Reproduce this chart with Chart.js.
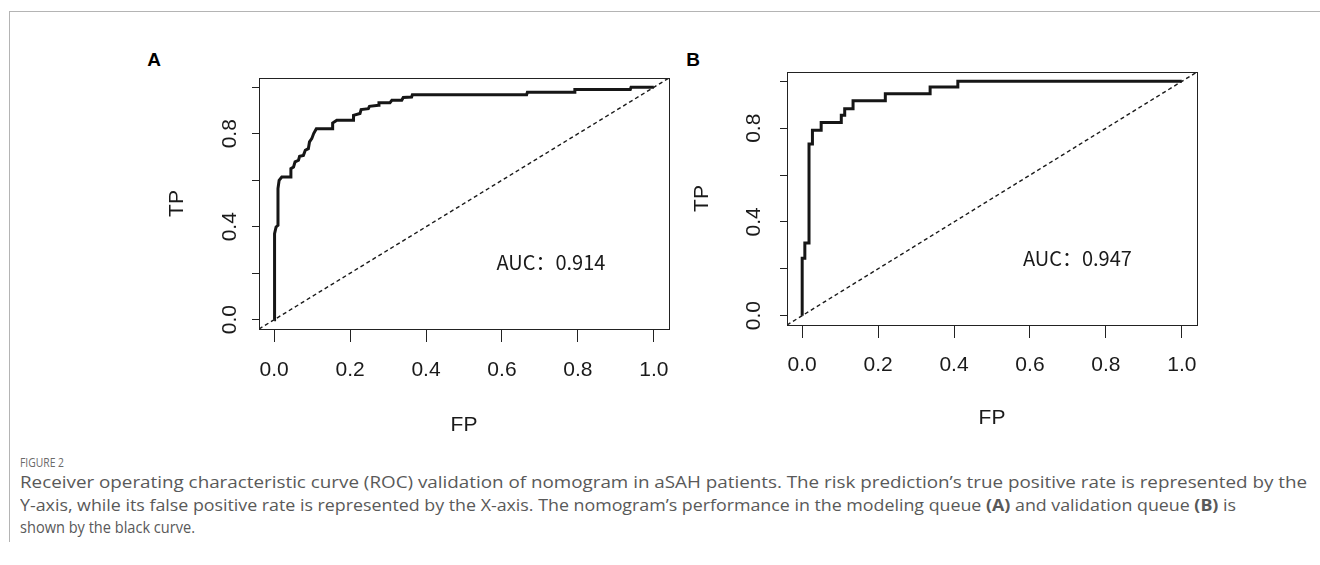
<!DOCTYPE html>
<html><head><meta charset="utf-8">
<script src="https://cdn.jsdelivr.net/npm/chart.js@4.4.1/dist/chart.umd.min.js"></script>
<style>
html,body{margin:0;padding:0;background:#fff;}
body{width:1320px;height:565px;position:relative;overflow:hidden;font-family:"Liberation Sans",Arial,sans-serif;}
.frame{position:absolute;left:9px;top:11px;width:1320px;height:530px;border-top:1px solid #b4b4b4;border-left:1px solid #b4b4b4;}
.panel{position:absolute;}
.letter{position:absolute;font:bold 19px "Liberation Sans",Arial,sans-serif;color:#000;transform:translate(-50%,-50%);}
.cap{position:absolute;white-space:nowrap;color:#595959;font-family:"Open Sans",sans-serif;font-size:16px;line-height:20px;transform-origin:0 50%;}
.cap.fig{font-size:12.5px;color:#6a6a6a;font-weight:400;}
</style></head><body>
<div class="frame"></div>
<div class="letter" style="left:154px;top:60px">A</div>
<div class="letter" style="left:693px;top:60px">B</div>
<div class="panel" style="left:100px;top:40px;width:594px;height:410px"><canvas id="ca"></canvas></div>
<div class="panel" style="left:628px;top:34px;width:594px;height:412px"><canvas id="cb"></canvas></div>
<div class="cap fig" data-x="20" data-y="463" data-w="44">FIGURE 2</div>
<div class="cap" data-x="20" data-y="482" data-w="1287">Receiver operating characteristic curve (ROC) validation of nomogram in aSAH patients. The risk prediction’s true positive rate is represented by the</div>
<div class="cap" data-x="20" data-y="505" data-w="1216">Y-axis, while its false positive rate is represented by the X-axis. The nomogram’s performance in the modeling queue <b>(A)</b> and validation queue <b>(B)</b> is</div>
<div class="cap" data-x="20" data-y="527" data-w="175">shown by the black curve.</div>
<script>
// ---- data ----
const xTicks = [0, 0.2, 0.4, 0.6, 0.8, 1.0];
const xTickLabels = ['0.0', '0.2', '0.4', '0.6', '0.8', '1.0'];
const yTicks = [0, 0.2, 0.4, 0.6, 0.8, 1.0];
const yTickLabels = ['0.0', '', '0.4', '', '0.8', ''];
const diagonal = [-0.04, 1.04];

const fpA = [0, 0.001, 0.005, 0.010, 0.010, 0.013, 0.020, 0.044, 0.044, 0.051, 0.055, 0.064, 0.067, 0.077, 0.082, 0.090, 0.093, 0.099, 0.104, 0.111, 0.154, 0.154, 0.165, 0.209, 0.209, 0.226, 0.229, 0.248, 0.251, 0.275, 0.276, 0.305, 0.310, 0.336, 0.340, 0.362, 0.364, 0.665, 0.667, 0.790, 0.792, 0.938, 0.940, 1.0];
const tpA = [0, 0.370, 0.399, 0.406, 0.564, 0.600, 0.614, 0.614, 0.650, 0.657, 0.679, 0.686, 0.703, 0.707, 0.729, 0.736, 0.765, 0.779, 0.801, 0.822, 0.822, 0.846, 0.858, 0.858, 0.879, 0.887, 0.904, 0.908, 0.918, 0.923, 0.934, 0.934, 0.944, 0.944, 0.956, 0.958, 0.968, 0.968, 0.979, 0.979, 0.990, 0.990, 1.0, 1.0];

const fpB = [0, 0, 0.007, 0.007, 0.018, 0.018, 0.027, 0.027, 0.050, 0.050, 0.103, 0.103, 0.112, 0.112, 0.134, 0.134, 0.219, 0.219, 0.337, 0.337, 0.410, 0.410, 1.0];
const tpB = [0, 0.245, 0.245, 0.310, 0.310, 0.733, 0.733, 0.791, 0.791, 0.824, 0.824, 0.855, 0.855, 0.883, 0.883, 0.917, 0.917, 0.947, 0.947, 0.976, 0.976, 1.0, 1.0];

const aucA = 'AUC：0.914';
const aucB = 'AUC：0.947';

// ---- drawing ----
const baseFont = '"Liberation Sans", Arial, sans-serif';
const framePlugin = {
  id: 'rframe',
  afterDraw(chart, args, opts) {
    const {ctx, chartArea: a, scales} = chart;
    ctx.save();
    ctx.strokeStyle = '#222';
    ctx.lineWidth = 1;
    ctx.strokeRect(Math.round(a.left) + 0.5, Math.round(a.top) + 0.5, Math.round(a.right - a.left), Math.round(a.bottom - a.top));
    ctx.fillStyle = '#1a1a1a';
    ctx.font = '20px "Noto Sans CJK SC", "Microsoft YaHei", sans-serif';
    ctx.textAlign = 'center';
    ctx.textBaseline = 'middle';
    ctx.fillText(opts.text, scales.x.getPixelForValue(opts.px), scales.y.getPixelForValue(opts.py));
    ctx.restore();
  }
};

function makePanel(id, fp, tp, auc, L) {
  const pts = fp.map((x, i) => ({x: x, y: tp[i]}));
  const diag = diagonal.map(v => ({x: v, y: v}));
  return new Chart(document.getElementById(id), {
    type: 'scatter',
    data: {datasets: [
      {data: diag, showLine: true, borderColor: '#1a1a1a', borderWidth: 1.4, borderDash: [4, 3], pointRadius: 0, order: 2},
      {data: pts, showLine: true, borderColor: '#161616', borderWidth: 3, pointRadius: 0, order: 1}
    ]},
    options: {
      responsive: true, maintainAspectRatio: false, animation: false, events: [],
      layout: {padding: {left: 0, top: L.padTop, right: 25, bottom: 0}},
      plugins: {legend: {display: false}, tooltip: {enabled: false},
        rframe: {text: auc, px: L.aucX, py: L.aucY}},
      scales: {
        x: {
          type: 'linear', min: -0.04, max: 1.04, position: 'bottom',
          afterBuildTicks: s => { s.ticks = xTicks.map(v => ({value: v})); },
          afterFit: s => { s.height = L.xAxisH; },
          grid: {display: true, drawOnChartArea: false, drawTicks: true, tickLength: 13, tickColor: '#222', tickWidth: 1},
          border: {display: false},
          ticks: {autoSkip: false, padding: L.xPad, color: '#1a1a1a', font: {family: baseFont, size: 21}, maxRotation: 0, minRotation: 0,
            callback: (v, i) => xTickLabels[i]},
          title: {display: true, text: 'FP', color: '#1a1a1a', font: {family: baseFont, size: 21}, padding: {top: 0, bottom: L.fpPad}}
        },
        y: {
          type: 'linear', min: -0.04, max: 1.04, position: 'left',
          afterBuildTicks: s => { s.ticks = yTicks.map(v => ({value: v})); },
          afterFit: s => { s.width = L.yAxisW; },
          grid: {display: true, drawOnChartArea: false, drawTicks: true, tickLength: 7, tickColor: '#222', tickWidth: 1},
          border: {display: false},
          ticks: {autoSkip: false, padding: L.yPad, crossAlign: 'center', minRotation: 90, maxRotation: 90, color: '#1a1a1a', font: {family: baseFont, size: 21},
            callback: (v, i) => yTickLabels[i]},
          title: {display: true, text: 'TP', color: '#1a1a1a', font: {family: baseFont, size: 21}, padding: {top: L.tpPad, bottom: 0}}
        }
      }
    },
    plugins: [framePlugin]
  });
}

makePanel('ca', fpA, tpA, aucA, {padTop: 38, xAxisH: 121, yAxisW: 159, xPad: 16, fpPad: 12, yPad: 7, tpPad: 65, aucX: 0.729, aucY: 0.247});
makePanel('cb', fpB, tpB, aucB, {padTop: 38, xAxisH: 121, yAxisW: 159, xPad: 15, fpPad: 15, yPad: 11, tpPad: 62, aucX: 0.725, aucY: 0.243});

// caption fitting
document.querySelectorAll('.cap').forEach(el => {
  el.style.left = el.dataset.x + 'px';
  el.style.top = (+el.dataset.y - 10) + 'px';
  const w = el.getBoundingClientRect().width;
  el.style.transform = 'scaleX(' + (+el.dataset.w / w) + ')';
});
</script>
</body></html>
